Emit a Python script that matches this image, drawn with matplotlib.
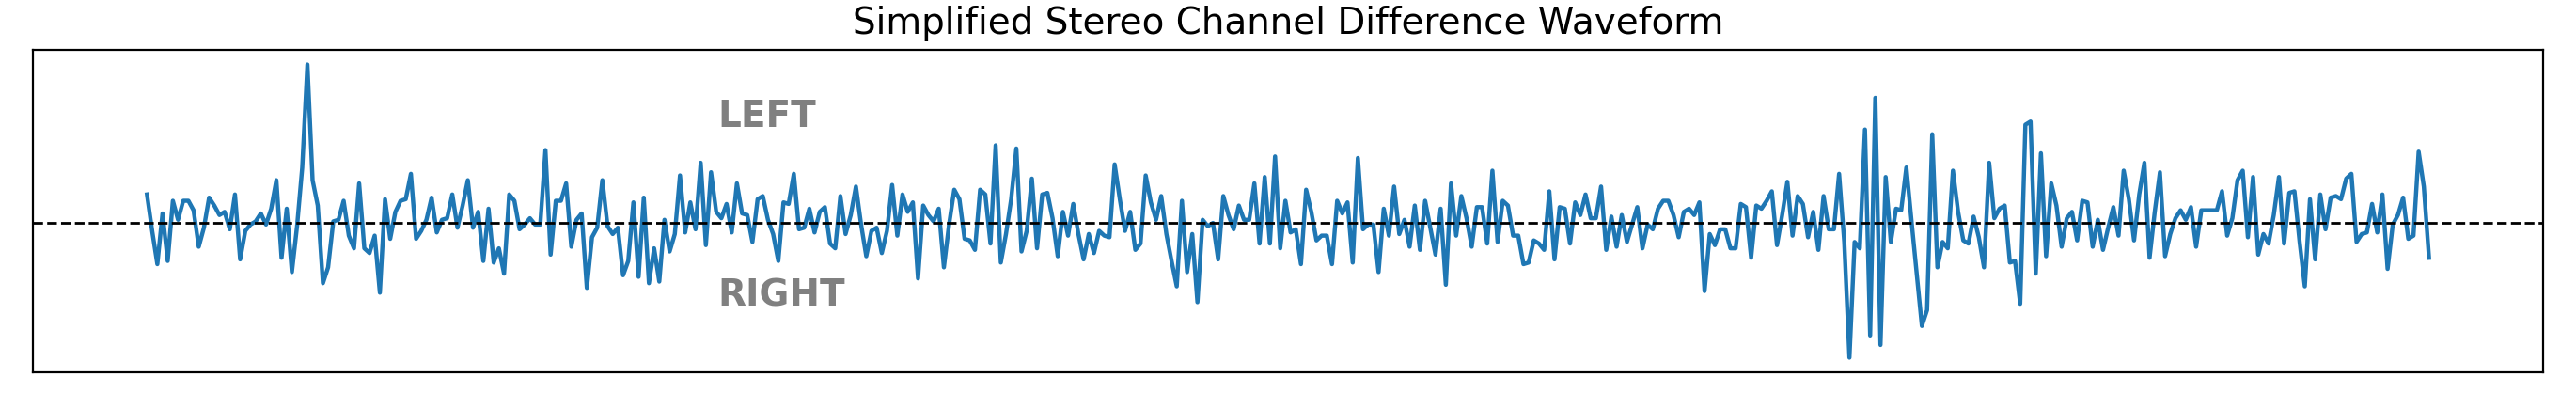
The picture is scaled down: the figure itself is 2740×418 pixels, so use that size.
import numpy as np
import matplotlib.pyplot as plt

# difference between the channels, one value per decimated sample
diff = [
    0.18, -0.05, -0.26, 0.06, -0.24, 0.14, 0.02, 0.14, 0.14, 0.08,
    -0.15, -0.03, 0.16, 0.11, 0.05, 0.07, -0.04, 0.18, -0.23, -0.05,
    -0.01, 0.01, 0.06, -0.01, 0.09, 0.27, -0.22, 0.09, -0.31, -0.02,
    0.35, 1.00, 0.27, 0.11, -0.38, -0.28, 0.01, 0.02, 0.14, -0.08,
    -0.16, 0.25, -0.16, -0.19, -0.08, -0.44, 0.15, -0.10, 0.07, 0.14,
    0.15, 0.31, -0.10, -0.05, 0.02, 0.16, -0.06, 0.02, 0.03, 0.18,
    -0.03, 0.11, 0.27, -0.03, 0.07, -0.24, 0.09, -0.25, -0.16, -0.32,
    0.18, 0.14, -0.04, -0.01, 0.03, -0.01, -0.01, 0.46, -0.20, 0.14,
    0.14, 0.25, -0.15, 0.02, 0.06, -0.41, -0.09, -0.03, 0.27, -0.02,
    -0.07, -0.03, -0.33, -0.24, 0.13, -0.34, 0.16, -0.38, -0.16, -0.37,
    0.02, -0.18, -0.07, 0.30, -0.06, 0.13, -0.04, 0.38, -0.14, 0.32,
    0.07, 0.03, 0.12, -0.06, 0.25, 0.06, 0.05, -0.12, 0.15, 0.17,
    0.02, -0.07, -0.24, 0.13, 0.12, 0.31, -0.04, -0.03, 0.09, -0.06,
    0.07, 0.10, -0.13, -0.16, 0.17, -0.07, 0.05, 0.23, -0.01, -0.21,
    -0.05, -0.03, -0.19, -0.05, 0.24, -0.08, 0.18, 0.07, 0.13, -0.35,
    0.11, 0.05, 0.01, 0.09, -0.28, -0.01, 0.21, 0.15, -0.10, -0.11,
    -0.17, 0.21, 0.18, -0.13, 0.49, -0.25, -0.07, 0.15, 0.47, -0.18,
    -0.05, 0.28, -0.16, 0.18, 0.19, 0.03, -0.21, 0.07, -0.08, 0.12,
    -0.07, -0.23, -0.07, -0.19, -0.05, -0.08, -0.09, 0.37, 0.15, -0.05,
    0.07, -0.17, -0.13, 0.30, 0.13, 0.02, 0.17, -0.07, -0.24, -0.40,
    0.14, -0.31, -0.07, -0.50, 0.02, -0.02, 0.00, -0.23, 0.17, 0.05,
    -0.04, 0.11, 0.02, 0.02, 0.25, -0.13, 0.29, -0.13, 0.42, -0.16,
    0.14, -0.06, -0.04, -0.26, 0.21, 0.07, -0.11, -0.08, -0.08, -0.26,
    0.14, 0.06, 0.13, -0.25, 0.41, -0.04, -0.01, -0.01, -0.31, 0.09,
    -0.08, 0.23, -0.07, 0.02, -0.15, 0.11, -0.17, 0.14, -0.03, -0.20,
    0.09, -0.39, 0.25, -0.08, 0.17, 0.03, -0.15, 0.10, 0.10, -0.13,
    0.33, -0.12, 0.14, 0.11, -0.08, -0.08, -0.26, -0.25, -0.11, -0.13,
    -0.17, 0.20, -0.23, 0.10, 0.09, -0.13, 0.13, 0.05, 0.18, 0.03,
    0.03, 0.23, -0.17, 0.04, -0.15, 0.05, -0.12, -0.01, 0.10, -0.16,
    -0.01, -0.04, 0.09, 0.14, 0.14, 0.05, -0.09, 0.07, 0.09, 0.05,
    0.13, -0.43, -0.07, -0.14, -0.04, -0.04, -0.16, -0.16, 0.12, 0.10,
    -0.22, 0.11, 0.09, 0.14, 0.20, -0.14, 0.05, 0.26, -0.08, 0.17,
    0.12, -0.09, 0.07, -0.17, 0.17, -0.04, -0.04, 0.31, -0.12, -0.85,
    -0.12, -0.16, 0.59, -0.71, 0.79, -0.77, 0.29, -0.12, 0.09, 0.08,
    0.35, 0.01, -0.32, -0.65, -0.55, 0.56, -0.28, -0.12, -0.16, 0.33,
    0.07, -0.11, -0.13, 0.04, -0.09, -0.28, 0.38, 0.03, 0.09, 0.11,
    -0.25, -0.24, -0.51, 0.62, 0.64, -0.32, 0.44, -0.21, 0.25, 0.11,
    -0.15, 0.03, 0.07, -0.11, 0.14, 0.13, -0.15, 0.02, -0.17, -0.03,
    0.10, -0.08, 0.33, 0.15, -0.11, 0.18, 0.38, -0.22, 0.07, 0.32,
    -0.21, -0.07, 0.03, 0.08, 0.02, 0.10, -0.15, 0.08, 0.08, 0.08,
    0.08, 0.20, -0.08, 0.03, 0.27, 0.33, -0.09, 0.29, -0.20, -0.07,
    -0.13, 0.05, 0.29, -0.13, 0.19, 0.20, -0.12, -0.40, 0.15, -0.23,
    0.18, -0.04, 0.16, 0.17, 0.15, 0.28, 0.31, -0.12, -0.07, -0.06,
    0.12, -0.06, 0.18, -0.29, -0.01, 0.05, 0.16, -0.10, -0.08, 0.45,
    0.23, -0.22,
]
labels = ["LEFT", "RIGHT"]
label_y = [0.67, -0.46]
label_t = 0.25

t = np.linspace(0, 1, len(diff))

fig = plt.figure(figsize=(13.7, 2.09), dpi=200)
ax = fig.add_axes([35 / 2740, 22 / 418, 2670 / 2740, 343 / 418])

ax.plot(t, diff, color="#1f77b4", linewidth=1.6)
ax.axhline(0, color="k", linestyle="--", linewidth=1)

for name, y in zip(labels, label_y):
    ax.text(label_t, y, name, color="gray", fontsize=14, fontweight="bold", va="center")

ax.set_xticks([])
ax.set_yticks([])
ax.set_title("Simplified Stereo Channel Difference Waveform", fontsize=14)

plt.savefig("out.png", dpi=200)
plt.close()
